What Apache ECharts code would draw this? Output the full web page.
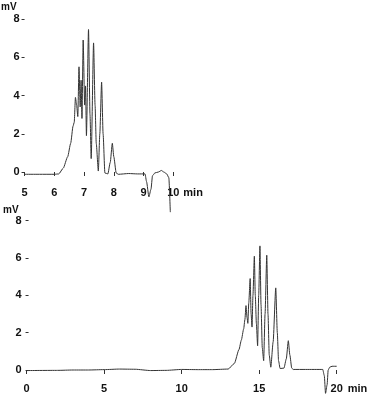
<!DOCTYPE html>
<html>
<head>
<meta charset="utf-8">
<script src="https://cdn.jsdelivr.net/npm/echarts@6/dist/echarts.min.js"></script>
<style>
html,body{margin:0;padding:0;background:#fff;}
#c{width:380px;height:403px;}
</style>
</head>
<body>
<div id="c"></div>
<script>
// Top chromatogram (expanded 5–10 min)
const topTime   = [5.0, 5.5, 6.0, 6.15, 6.3, 6.45, 6.55, 6.63, 6.67, 6.71, 6.75, 6.79, 6.83, 6.87, 6.9, 6.93, 6.97, 7.02, 7.05, 7.08, 7.15, 7.2, 7.24, 7.32, 7.37, 7.41, 7.48, 7.53, 7.59, 7.64, 7.7, 7.8, 7.88, 7.95, 8.0, 8.08, 8.15, 8.5, 8.8, 9.05, 9.1, 9.18, 9.25, 9.3, 9.38, 9.5, 9.6, 9.68, 9.78, 9.85, 9.9];
const topSignal = [-0.12, -0.12, -0.12, -0.1, 0.2, 0.8, 1.5, 2.4, 2.6, 3.9, 3.5, 2.9, 5.5, 3.4, 4.8, 2.8, 6.9, 3.5, 4.5, 1.9, 7.45, 3.0, 0.7, 6.75, 3.5, 1.5, 0.05, 2.0, 4.7, 2.0, -0.05, -0.1, 0.5, 1.5, 0.8, -0.05, -0.12, -0.08, -0.1, -0.1, -0.5, -1.3, -0.9, -0.2, -0.05, 0.0, 0.08, 0.0, -0.1, -0.3, -2.1];
const topXTicks = [5, 6, 7, 8, 9, 10];

// Bottom chromatogram (full run 0–20 min)
const bottomTime   = [0, 2, 3, 4, 5, 6, 7, 8, 9, 10, 11, 12, 13, 13.4, 13.7, 13.85, 14.0, 14.08, 14.15, 14.22, 14.27, 14.33, 14.42, 14.48, 14.54, 14.6, 14.69, 14.75, 14.82, 14.9, 14.97, 15.05, 15.12, 15.2, 15.29, 15.38, 15.49, 15.57, 15.65, 15.75, 15.9, 16.07, 16.17, 16.25, 16.35, 16.6, 16.75, 16.88, 16.98, 17.1, 17.2, 18, 19.1, 19.2, 19.28, 19.38, 19.45, 19.55, 19.7, 20.0];
const bottomSignal = [-0.03, -0.02, 0.0, 0.0, 0.02, 0.05, 0.04, -0.03, -0.02, 0.03, 0.02, 0.02, 0.05, 0.35, 1.1, 1.6, 2.2, 2.7, 3.45, 2.8, 2.5, 3.6, 4.9, 3.0, 2.3, 4.0, 6.1, 4.0, 2.5, 1.3, 4.0, 6.65, 3.5, 1.2, 0.5, 3.0, 6.15, 3.0, 0.8, 0.15, 1.5, 4.4, 2.0, 0.5, 0.08, 0.1, 0.6, 1.57, 0.8, 0.1, 0.03, 0.03, 0.03, -0.3, -1.25, -0.8, 0.0, 0.15, 0.2, 0.2];
const bottomXTicks = [0, 5, 10, 15, 20];

const yTicks = [0, 2, 4, 6, 8];
const xUnit = 'min';
const yUnit = 'mV';

const pairs = (t, v) => t.map((x, i) => [x, v[i]]);
const txt = {color: '#111', fontFamily: 'Liberation Sans, Arial, sans-serif', fontSize: 11, fontWeight: 'bold'};
const tickStyle = {color: '#333', width: 1};

const chart = echarts.init(document.getElementById('c'), null, {renderer: 'canvas'});
chart.setOption({
  backgroundColor: '#fff',
  animation: false,
  grid: [
    {left: 22.5, right: 206.7, top: 19, bottom: 231},
    {left: 22.5, right: 43.3, top: 220.7, bottom: 33}
  ],
  xAxis: [
    {gridIndex: 0, type: 'value', min: topXTicks[0], max: topXTicks[topXTicks.length-1], interval: 1,
     offset: 10, axisLine: {show: false}, axisTick: {show: true, length: 4, lineStyle: tickStyle},
     splitLine: {show: false}, axisLabel: Object.assign({margin: 5}, txt),
     name: xUnit, nameLocation: 'end', nameGap: 10,
     nameTextStyle: Object.assign({verticalAlign: 'top', padding: [15, 0, 0, 0]}, txt)},
    {gridIndex: 1, type: 'value', min: bottomXTicks[0], max: bottomXTicks[bottomXTicks.length-1], interval: 5,
     offset: 3, axisLine: {show: false}, axisTick: {show: true, length: 4, lineStyle: tickStyle},
     splitLine: {show: false}, axisLabel: Object.assign({margin: 10}, txt),
     name: xUnit, nameLocation: 'end', nameGap: 11,
     nameTextStyle: Object.assign({verticalAlign: 'top', padding: [13, 0, 0, 0]}, txt)}
  ],
  yAxis: [
    {gridIndex: 0, type: 'value', min: yTicks[0], max: yTicks[yTicks.length-1], interval: 2,
     axisLine: {show: false}, axisTick: {show: true, length: 3, lineStyle: tickStyle},
     splitLine: {show: false}, axisLabel: Object.assign({margin: 5}, txt),
     name: yUnit, nameLocation: 'end', nameGap: 6.5,
     nameTextStyle: Object.assign({}, txt, {fontSize: 10, align: 'right', padding: [0, 8, 0, 0]})},
    {gridIndex: 1, type: 'value', min: yTicks[0], max: yTicks[yTicks.length-1], interval: 2,
     offset: -2, axisLine: {show: false}, axisTick: {show: true, length: 3, lineStyle: tickStyle},
     splitLine: {show: false}, axisLabel: Object.assign({margin: 7}, txt),
     name: yUnit, nameLocation: 'end', nameGap: 4,
     nameTextStyle: Object.assign({}, txt, {fontSize: 10, align: 'right', padding: [0, 10, 0, 0]})}
  ],
  series: [
    {type: 'line', xAxisIndex: 0, yAxisIndex: 0, data: pairs(topTime, topSignal),
     showSymbol: false, clip: false, smooth: 0.2, smoothMonotone: 'x',
     lineStyle: {color: '#333', width: 1}},
    {type: 'line', xAxisIndex: 1, yAxisIndex: 1, data: pairs(bottomTime, bottomSignal),
     showSymbol: false, clip: false, smooth: 0.2, smoothMonotone: 'x',
     lineStyle: {color: '#333', width: 1}}
  ]
});
</script>
</body>
</html>
